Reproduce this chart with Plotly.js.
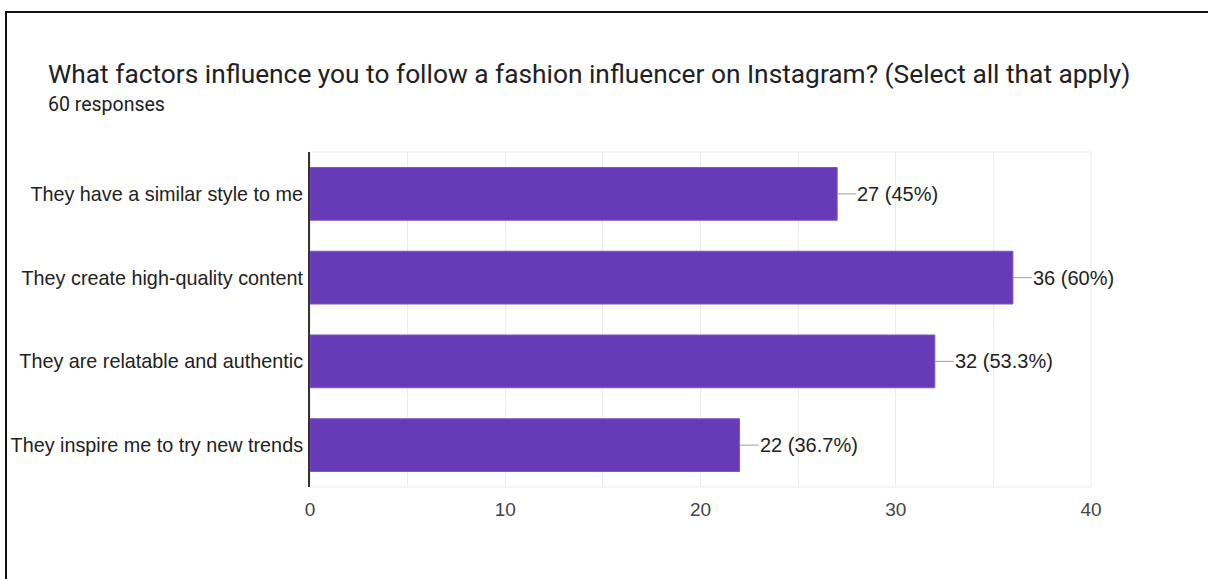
<!DOCTYPE html>
<html>
<head>
<meta charset="utf-8">
<script src="https://cdn.plot.ly/plotly-3.0.1.min.js"></script>
<style>
  html, body { margin: 0; padding: 0; background: #fff; }
  #wrap { position: relative; width: 1208px; height: 579px; overflow: hidden; }
  #chart { position: absolute; left: 0; top: 0; width: 1208px; height: 579px; }
  #frame { position: absolute; left: 5px; top: 11px; width: 1210px; height: 580px;
           border-top: 2px solid #111; border-left: 2px solid #111; pointer-events: none; }
</style>
</head>
<body>
<div id="wrap">
  <div id="chart"></div>
  <div id="frame"></div>
</div>
<script>
const titleText = "What factors influence you to follow a fashion influencer on Instagram? (Select all that apply)";
const subtitleText = "60 responses";
const totalResponses = 60;
const categories = [
  "They have a similar style to me",
  "They create high-quality content",
  "They are relatable and authentic",
  "They inspire me to try new trends"
];
const counts = [27, 36, 32, 22];
const xTicks = [0, 10, 20, 30, 40];

function pctLabel(v) {
  const p = Math.round(v / totalResponses * 1000) / 10;
  return v + " (" + p + "%)";
}

const trace = {
  type: "bar",
  orientation: "h",
  x: counts,
  y: categories,
  marker: { color: "#673ab7", line: { color: "#7e57c2", width: 1 } },
  hoverinfo: "none"
};

const labelAnns = counts.map((v, i) => ({
  x: v, y: categories[i], xref: "x", yref: "y",
  text: pctLabel(v),
  showarrow: true, arrowhead: 0, arrowwidth: 1, arrowcolor: "#9e9e9e",
  ax: 19, ay: 0, xanchor: "left", yanchor: "middle",
  borderpad: 0, standoff: 0,
  font: { family: "Liberation Sans, Arial, sans-serif", size: 20, color: "#222" }
}));

const layout = {
  width: 1208, height: 579,
  margin: { l: 310, r: 117, t: 152, b: 92 },
  paper_bgcolor: "#fff", plot_bgcolor: "#fff",
  showlegend: false,
  bargap: 0.37,
  xaxis: {
    range: [0, 40], tickvals: xTicks, ticktext: xTicks.map(String),
    showgrid: true, gridcolor: "#ebebeb", gridwidth: 1,
    minor: { dtick: 5, showgrid: true, gridcolor: "#ebebeb", gridwidth: 1 },
    zeroline: false, showline: false,
    ticks: "outside", ticklen: 5, tickcolor: "rgba(0,0,0,0)",
    tickfont: { family: "Liberation Sans, Arial, sans-serif", size: 19, color: "#444" },
    fixedrange: true
  },
  yaxis: {
    autorange: "reversed",
    showgrid: false, zeroline: false,
    showline: true, linecolor: "#333", linewidth: 2,
    ticks: "outside", ticklen: 1, tickcolor: "rgba(0,0,0,0)",
    tickfont: { family: "Liberation Sans, Arial, sans-serif", size: 19.8, color: "#222" },
    fixedrange: true
  },
  shapes: [{
    type: "rect", xref: "paper", yref: "paper", x0: 0, x1: 1, y0: 0, y1: 1,
    line: { color: "#ebebeb", width: 1 }, layer: "below"
  }],
  annotations: [
    {
      text: titleText, xref: "paper", yref: "paper",
      x: -264 / 781, y: 1 + 78 / 335, xanchor: "left", yanchor: "middle",
      showarrow: false,
      font: { family: "Roboto, sans-serif", size: 26.3, color: "#202124" }
    },
    {
      text: subtitleText, xref: "paper", yref: "paper",
      x: -264 / 781, y: 1 + 48 / 335, xanchor: "left", yanchor: "middle",
      showarrow: false,
      font: { family: "Roboto, sans-serif", size: 19.5, color: "#202124" }
    }
  ].concat(labelAnns)
};

Plotly.newPlot("chart", [trace], layout, { displayModeBar: false, staticPlot: true });
</script>
</body>
</html>
